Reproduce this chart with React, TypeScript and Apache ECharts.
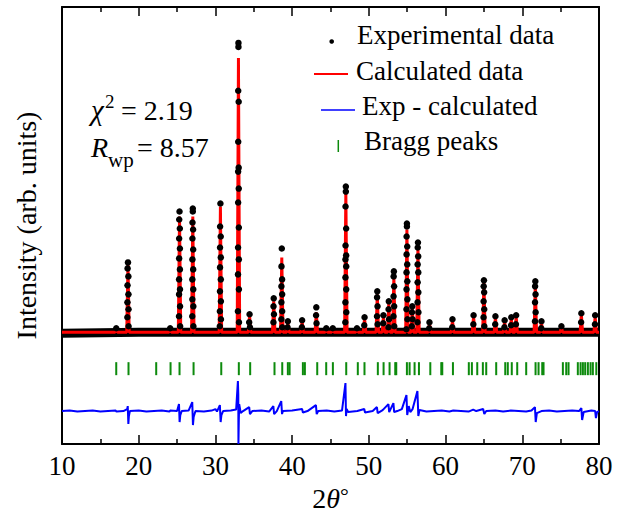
import React, { useEffect, useRef } from "react";
import * as echarts from "echarts";

// Peak positions (2θ) and calculated peak intensities (arb. units, baseline = 0)
const peakPos = [17.07, 18.6, 24.1, 25.32, 27.05, 30.65, 33.0, 34.45, 37.6, 38.65, 39.44, 41.3, 43.15, 44.45, 45.3, 47.0, 48.45, 49.44, 51.1, 51.9, 52.6, 53.26, 54.96, 55.66, 56.4, 57.9, 60.9, 63.65, 65.0, 66.5, 67.7, 68.57, 69.2, 71.7, 72.5, 75.1, 77.7, 79.5];
const calcPeak = [3, 68, 3, 116, 116, 126, 275, 17, 31, 75, 10, 11, 20, 3, 3, 140, 3, 14, 38, 16, 29, 55, 103, 25, 85, 9, 12, 16, 50, 15, 11, 14, 16, 48, 10, 5, 18, 16];

// Observed data points (2θ, intensity)
const expPoints: [number, number][] = [
  [17.07, 4], [24.1, 4],
  [18.6, 70], [18.55, 64], [18.65, 56], [18.54, 47], [18.66, 38], [18.53, 30], [18.67, 23], [18.52, 15], [18.68, 6],
  [25.32, 121], [25.28, 113], [25.36, 104], [25.27, 94], [25.37, 84], [25.27, 74], [25.37, 63], [25.26, 53], [25.38, 43], [25.26, 38], [25.39, 26], [25.25, 16], [25.4, 6],
  [27.05, 124], [27.05, 121], [27.01, 110], [27.09, 103], [27.0, 94], [27.1, 83], [27.0, 73], [27.1, 63], [26.99, 53], [27.11, 43], [26.99, 33], [27.12, 26], [26.98, 16], [27.13, 6],
  [30.65, 129], [30.61, 106], [30.69, 96], [30.6, 85], [30.7, 75], [30.6, 65], [30.7, 53], [30.59, 41], [30.71, 31], [30.58, 21], [30.72, 13], [30.57, 6],
  [33.0, 290], [33.0, 286], [32.97, 242], [33.03, 231], [32.97, 191], [33.03, 165], [32.96, 161], [33.04, 144], [32.96, 130], [33.05, 105], [32.95, 85], [33.05, 73], [32.94, 58], [33.06, 43], [32.93, 21], [33.07, 10],
  [34.45, 18], [34.4, 10], [34.5, 5],
  [37.6, 34], [37.57, 26], [37.63, 18], [37.56, 10],
  [38.65, 84], [38.61, 66], [38.69, 53], [38.6, 46], [38.7, 38], [38.6, 30], [38.7, 21], [38.59, 13], [38.71, 5],
  [39.44, 11], [39.4, 5], [41.3, 12], [41.27, 5],
  [43.15, 25], [43.12, 17], [43.18, 9], [44.45, 4], [45.3, 4],
  [47.0, 146], [47.0, 141], [46.96, 126], [47.04, 104], [46.96, 87], [47.04, 77], [46.95, 73], [47.05, 66], [46.95, 55], [47.05, 43], [46.94, 30], [47.06, 20], [46.93, 10],
  [48.45, 4], [49.44, 15], [49.4, 7],
  [51.1, 41], [51.07, 35], [51.13, 26], [51.06, 16], [51.14, 8],
  [51.9, 17], [51.87, 9],
  [52.6, 31], [52.57, 23], [52.63, 13], [52.56, 5],
  [53.26, 61], [53.23, 56], [53.29, 46], [53.22, 36], [53.3, 26], [53.21, 16], [53.31, 6],
  [54.96, 109], [54.96, 106], [54.92, 96], [55.0, 86], [54.92, 78], [55.0, 68], [54.91, 60], [55.01, 51], [54.91, 43], [55.02, 33], [54.9, 23], [55.03, 13], [54.89, 3],
  [55.66, 26], [55.62, 20], [55.7, 13], [55.6, 6],
  [56.4, 90], [56.37, 85], [56.43, 76], [56.36, 68], [56.44, 60], [56.36, 50], [56.45, 40], [56.35, 30], [56.46, 20], [56.34, 10],
  [57.9, 10], [57.87, 4], [60.9, 13], [60.87, 5], [63.65, 17], [63.62, 8],
  [65.0, 52], [64.97, 46], [65.03, 40], [64.96, 31], [65.04, 23], [64.95, 15], [65.05, 6],
  [66.5, 16], [66.47, 8], [67.7, 12], [67.67, 5], [68.57, 15], [68.54, 7], [69.2, 17], [69.17, 8],
  [71.7, 51], [71.67, 46], [71.73, 38], [71.66, 30], [71.74, 20], [71.65, 11],
  [72.5, 11], [72.47, 4], [75.1, 6], [77.7, 19], [77.67, 10], [79.5, 17], [79.47, 8],
];

// Dense observed background (drawn as a band of overlapping points)
const bandPoints: [number, number][] = [
  [10, -1], [15, -0.5], [20, 0], [25, 0], [30, 0], [35, 0], [40, 0], [45, 0], [50, 0], [55, 0], [60, 0], [65, 0], [70, 0], [75, 0], [80, 0],
];

// Difference curve (exp - calc), offset below
const diffPoints: [number, number][] = [
  [10, -79], [11, -78.5], [12, -79.5], [13, -79], [14, -78.5], [15, -79.5], [16, -79], [17, -78.5], [17.1, -79.5], [18, -79],
  [18.5, -77], [18.57, -74], [18.65, -92], [18.72, -84], [18.85, -79], [20, -78.5], [21, -79.5], [22, -79], [23, -78.5], [24, -79.5], [24.1, -78.5], [25, -79],
  [25.25, -72], [25.33, -90], [25.42, -83], [25.6, -79], [26.5, -78.5], [26.98, -70], [27.07, -93], [27.16, -85], [27.4, -79],
  [28.5, -79.5], [29.5, -78.5], [30.0, -77], [30.2, -79.5], [30.58, -73], [30.68, -90], [30.78, -83], [31, -79], [32, -78.5], [32.7, -77.5],
  [32.93, -49], [32.98, -62], [33.0, -112], [33.05, -88], [33.1, -72], [33.3, -81], [33.6, -79], [34.4, -75], [34.5, -82], [34.8, -79],
  [36, -78.5], [37, -79.5], [37.55, -74], [37.65, -82], [38, -79], [38.58, -69], [38.68, -82], [38.8, -79], [40, -78.5], [41.3, -77], [41.4, -80.5],
  [42, -79], [43.1, -73], [43.2, -82], [43.4, -79], [44.5, -78.5], [45.5, -79.5], [46.5, -78.5], [46.95, -51], [47.02, -84], [47.1, -77], [47.3, -80],
  [48.5, -79], [49.4, -77], [49.5, -80.5], [50.5, -79], [51.05, -75], [51.15, -81], [51.8, -78], [52.55, -72], [52.65, -80], [53.2, -71], [53.3, -80],
  [53.7, -79], [54.3, -77], [54.9, -63], [55.0, -83], [55.2, -74], [55.4, -80], [55.7, -77], [56.33, -59], [56.45, -84], [56.6, -78],
  [57.5, -79.5], [58.5, -79], [59.5, -78.5], [60.5, -79.5], [61, -78.5], [62, -79], [63, -79.5], [63.6, -77.5], [64, -79], [64.9, -77], [65.05, -82], [65.3, -79],
  [66.5, -78.5], [67.5, -79.5], [68.5, -78.5], [69.5, -79], [70.5, -79.5], [71.2, -78.5], [71.65, -75], [71.75, -90], [71.9, -81], [72.5, -79],
  [73.5, -78.5], [74.5, -79.5], [75.5, -79], [76.5, -78.5], [77.4, -79], [77.7, -76], [77.8, -88], [78, -80], [79, -78.5], [79.5, -79], [79.6, -86], [79.75, -80], [80, -79],
];

// Bragg reflection positions (2θ)
const braggPos = [17.07, 18.67, 22.28, 24.15, 25.32, 27.15, 30.76, 33.05, 34.53, 37.7, 38.71, 39.44, 39.67, 41.4, 41.66, 43.27, 44.44, 45.31, 47.05, 48.56, 49.43, 51.17, 51.92, 52.7, 53.44, 53.57, 54.96, 55.31, 55.96, 56.53, 58.01, 59.44, 59.57, 60.96, 63.03, 63.43, 64.13, 64.86, 65.3, 66.6, 67.78, 68.11, 68.63, 69.34, 70.51, 71.73, 72.12, 72.6, 72.77, 75.29, 75.73, 76.03, 77.24, 77.6, 77.9, 78.2, 78.55, 78.9, 79.2, 79.65];
const braggLevel = -36.5;

const legendLabels = ["Experimental data", "Calculated data", "Exp - calculated", "Bragg peaks"];

const FONT = "Liberation Serif";
const GREEN = "#0c8a0c";

function txt(x: number, y: number, text: string, size: number, italic = false) {
  return {
    type: "text",
    x,
    y,
    style: {
      text,
      fontFamily: FONT,
      fontSize: size,
      fontStyle: italic ? "italic" : "normal",
      fill: "#000",
      verticalAlign: "middle",
      align: "left",
    },
  };
}

export default function App() {
  const ref = useRef<HTMLDivElement>(null);
  useEffect(() => {
    if (!ref.current) return;
    const chart = echarts.init(ref.current, undefined, { renderer: "svg" });
    const HW = 0.16;
    const calcLine: [number, number][] = [[10, 0]];
    peakPos.forEach((p, i) => {
      calcLine.push([p - HW, 0], [p, calcPeak[i]], [p + HW, 0]);
    });
    calcLine.push([80, 0]);

    const axisCommon = {
      type: "value" as const,
      min: 10,
      max: 80,
      interval: 10,
      axisLine: { show: true, onZero: false, lineStyle: { color: "#000", width: 2 } },
      axisTick: { show: true, inside: true, length: 9, lineStyle: { color: "#000", width: 1.5 } },
      minorTick: { show: true, splitNumber: 2, length: 5, lineStyle: { color: "#000", width: 1.5 } },
      splitLine: { show: false },
      minorSplitLine: { show: false },
    };

    chart.setOption({
      animation: false,
      backgroundColor: "#fff",
      grid: { left: 62, right: 34, top: 7, bottom: 72 },
      xAxis: [
        {
          ...axisCommon,
          position: "bottom",
          axisLabel: { fontFamily: FONT, fontSize: 27, color: "#000", margin: 8 },
          name: "{a|2}{b|θ}{c|°}",
          nameLocation: "middle",
          nameGap: 40,
          nameTextStyle: {
            rich: {
              a: { fontFamily: FONT, fontSize: 28, color: "#000" },
              b: { fontFamily: FONT, fontSize: 28, fontStyle: "italic", color: "#000" },
              c: { fontFamily: FONT, fontSize: 22, color: "#000", verticalAlign: "top" },
            },
          },
        },
        { ...axisCommon, position: "top", axisLabel: { show: false } },
      ],
      yAxis: [
        {
          type: "value",
          min: -112,
          max: 326,
          axisLine: { show: true, onZero: false, lineStyle: { color: "#000", width: 2 } },
          axisTick: { show: false },
          axisLabel: { show: false },
          splitLine: { show: false },
          name: "Intensity (arb. units)",
          nameLocation: "middle",
          nameGap: 22,
          nameTextStyle: { fontFamily: FONT, fontSize: 28, color: "#000" },
        },
        {
          type: "value",
          position: "right",
          min: -112,
          max: 326,
          axisLine: { show: true, onZero: false, lineStyle: { color: "#000", width: 2 } },
          axisTick: { show: false },
          axisLabel: { show: false },
          splitLine: { show: false },
        },
      ],
      series: [
        {
          name: "band",
          type: "line",
          data: bandPoints,
          showSymbol: false,
          lineStyle: { color: "#000", width: 9 },
          z: 1,
          silent: true,
        },
        {
          name: legendLabels[1],
          type: "line",
          data: calcLine,
          showSymbol: false,
          lineStyle: { color: "#ff0000", width: 3 },
          z: 2,
        },
        {
          name: legendLabels[0],
          type: "scatter",
          data: expPoints,
          symbol: "circle",
          symbolSize: 6.5,
          itemStyle: { color: "#000", opacity: 1 },
          z: 3,
        },
        {
          name: legendLabels[2],
          type: "line",
          data: diffPoints,
          showSymbol: false,
          lineStyle: { color: "#0000ff", width: 2 },
          z: 2,
        },
        {
          name: legendLabels[3],
          type: "scatter",
          data: braggPos.map((p) => [p, braggLevel]),
          symbol: "rect",
          symbolSize: [2, 13],
          itemStyle: { color: GREEN, opacity: 1 },
          z: 2,
        },
      ],
      graphic: [
        { type: "circle", shape: { cx: 331.7, cy: 41.5, r: 2.3 }, style: { fill: "#000" } },
        txt(357, 35, legendLabels[0], 27),
        { type: "line", shape: { x1: 314, y1: 74, x2: 348, y2: 74 }, style: { stroke: "#ff0000", lineWidth: 2 } },
        txt(356, 71, legendLabels[1], 27),
        { type: "line", shape: { x1: 321, y1: 110, x2: 355, y2: 110 }, style: { stroke: "#0000ff", lineWidth: 1.5 } },
        txt(362, 106, legendLabels[2], 27),
        { type: "line", shape: { x1: 338.3, y1: 140, x2: 338.3, y2: 152 }, style: { stroke: GREEN, lineWidth: 1.5 } },
        txt(364, 141, legendLabels[3], 27),
        // chi^2 and R_wp annotations
        txt(91, 110, "χ", 29, true),
        txt(105, 101, "2", 19),
        txt(121, 110, "= 2.19", 28),
        txt(91, 147, "R", 28, true),
        txt(108, 159.5, "wp", 21),
        txt(137, 147, "= 8.57", 28),
      ],
    });
    return () => chart.dispose();
  }, []);
  return <div ref={ref} style={{ position: "fixed", left: 0, top: 0, width: 633, height: 517 }} />;
}
